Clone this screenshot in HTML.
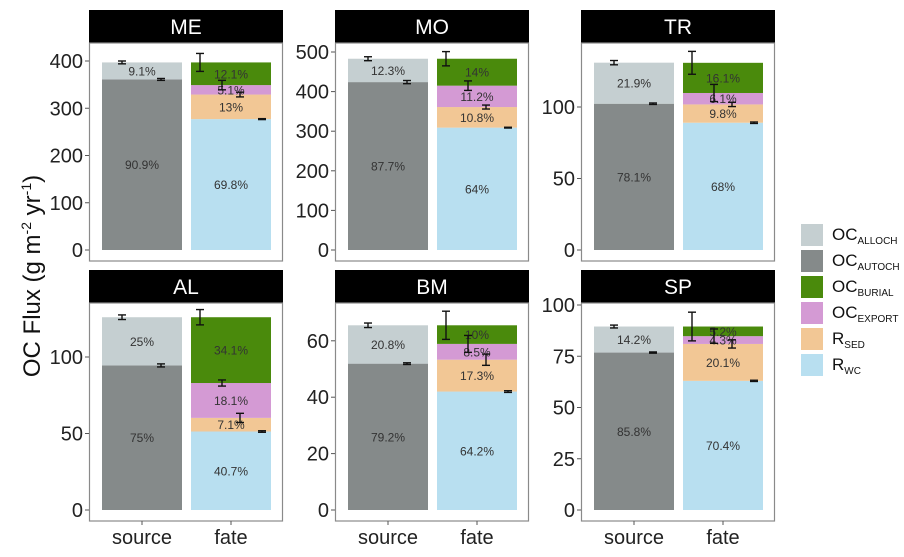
<!DOCTYPE html>
<html><head><meta charset="utf-8"><style>
body{margin:0;background:#fff;width:904px;height:552px;overflow:hidden;font-family:"Liberation Sans",sans-serif}
</style></head><body>
<svg id="chart" width="904" height="552" xmlns="http://www.w3.org/2000/svg" font-family="Liberation Sans, sans-serif">
<text transform="translate(40,276) rotate(-90)" text-anchor="middle" font-size="24" fill="#111">OC Flux (g m<tspan font-size="14" dy="-9">-2</tspan><tspan dy="9"> yr</tspan><tspan font-size="14" dy="-9">-1</tspan><tspan dy="9">)</tspan></text>
<g id="legend"></g>
</svg>
<script>
const sites = ["ME","MO","TR","AL","BM","SP"];
const segNames = ["OC_ALLOCH","OC_AUTOCH","OC_BURIAL","OC_EXPORT","R_SED","R_WC"];
const colors = ["#c5cfd1","#858a8a","#4a8a0c","#d49ad4","#f2c795","#b8dff0"];
// source: [alloch, autoch]
const sourceVals = [[36,361],[59,424],[28.7,102.3],[31.5,94.5],[13.6,51.9],[12.7,76.8]];
// fate: [rwc, rsed, export, burial]
const fateVals = [[277,52,20,48],[309,52,54,68],[89,12.8,8,21.1],[51.3,8.9,22.8,43],[42,11.3,5.6,6.6],[63,18,3.8,4.7]];
const sourcePct = [["9.1%","90.9%"],["12.3%","87.7%"],["21.9%","78.1%"],["25%","75%"],["20.8%","79.2%"],["14.2%","85.8%"]];
const fatePct = [["69.8%","13%","5.1%","12.1%"],["64%","10.8%","11.2%","14%"],["68%","9.8%","6.1%","16.1%"],["40.7%","7.1%","18.1%","34.1%"],["64.2%","17.3%","8.5%","10%"],["70.4%","20.1%","4.3%","5.2%"]];
// errors: source [total, autoch], fate [burial, export, rsed, rwc]
const sourceErr = [[3,2],[5,4],[1.5,0.5],[1.5,1],[0.8,0.3],[0.7,0.3]];
const fateErr = [[19,10,5,1],[18,12,5,1],[8,6,1.5,0.5],[5,2,3,0.5],[5,3,2,0.3],[7,3.5,2,0.3]];
const ticks = [[0,100,200,300,400],[0,100,200,300,400,500],[0,50,100],[0,50,100],[0,20,40,60],[0,25,50,75,100]];
const scales = [0.4725,0.396,1.43,1.53,2.82,2.05];
const NS="http://www.w3.org/2000/svg";
const svg=document.getElementById('chart');
function mk(tag,attrs,parent){const e=document.createElementNS(NS,tag);for(const k in attrs)e.setAttribute(k,attrs[k]);(parent||svg).appendChild(e);return e;}
const colX=[89,335,581], rowY=[10,270];
sites.forEach((s,i)=>{
  const px=colX[i%3], py=rowY[Math.floor(i/3)];
  const y0=py+240, k=scales[i];
  const Y=v=>y0-v*k;
  const g=mk('g',{});
  
  
  const h=mk('rect',{x:px,y:py,width:194,height:33,fill:'#000'},g);
  
  
  const ht=mk('text',{x:px+97,y:py+24,'text-anchor':'middle','font-size':21,fill:'#fff'},g);ht.textContent=s;
  
  
  mk('rect',{x:px+0.5,y:py+33,width:193,height:218,fill:'#fff',stroke:'#8a8a8a','stroke-width':1.2},g);
  ticks[i].forEach(t=>{
    const tl=mk('text',{x:px-6,y:Y(t)+7,'text-anchor':'end','font-size':20,fill:'#222'},g);tl.textContent=t;
    
    
    mk('line',{x1:px-4,x2:px,y1:Y(t),y2:Y(t),stroke:'#555'},g);
  });
  const sx=px+13, fx=px+102, bw=80;
  let cum=0;
  const sv=[sourceVals[i][1],sourceVals[i][0]], sp=[sourcePct[i][1],sourcePct[i][0]], sc=[colors[1],colors[0]];
  sv.forEach((v,j)=>{
    const r=mk('rect',{x:sx,y:Y(cum+v),width:bw,height:v*k,fill:sc[j]},g);
    
    
    const t=mk('text',{x:sx+bw/2,y:Y(cum+v/2)+4.5,'text-anchor':'middle','font-size':12,fill:'#333'},g);t.textContent=sp[j];
    cum+=v;
  });
  cum=0;
  const fc=[colors[5],colors[4],colors[3],colors[2]];
  const tops=[];
  fateVals[i].forEach((v,j)=>{
    const r=mk('rect',{x:fx,y:Y(cum+v),width:bw,height:v*k,fill:fc[j]},g);
    
    
    const t=mk('text',{x:fx+bw/2,y:Y(cum+v/2)+4.5,'text-anchor':'middle','font-size':12,fill:'#333'},g);t.textContent=fatePct[i][j];
    cum+=v;tops.push(cum);
  });
  function err(x,c,e){
    mk('line',{x1:x,x2:x,y1:Y(c-e),y2:Y(c+e),stroke:'#111','stroke-width':1.4},g);
    mk('line',{x1:x-4,x2:x+4,y1:Y(c-e),y2:Y(c-e),stroke:'#111','stroke-width':1.4},g);
    mk('line',{x1:x-4,x2:x+4,y1:Y(c+e),y2:Y(c+e),stroke:'#111','stroke-width':1.4},g);
  }
  const stot=sourceVals[i][0]+sourceVals[i][1];
  err(sx+20,stot,sourceErr[i][0]); err(sx+59,sourceVals[i][1],sourceErr[i][1]);
  err(fx+9,tops[3],fateErr[i][0]); err(fx+31,tops[2],fateErr[i][1]); err(fx+49,tops[1],fateErr[i][2]); err(fx+71,tops[0],fateErr[i][3]);
  if(i>=3){
    [['source',sx+bw/2],['fate',fx+bw/2]].forEach(([l,x])=>{
      mk('line',{x1:x,x2:x,y1:py+251,y2:py+255,stroke:'#555'},g);
      const t=mk('text',{x:x,y:py+274,'text-anchor':'middle','font-size':20,fill:'#222'},g);t.textContent=l;
      
      
    });
  }
});
const lg=document.getElementById('legend');
const legMain=["OC","OC","OC","OC","R","R"], legSub=["ALLOCH","AUTOCH","BURIAL","EXPORT","SED","WC"];
legSub.forEach((sub,j)=>{
  const y=224+j*26;
  const r=mk('rect',{x:801,y:y,width:22,height:22,fill:colors[j]},lg);
  
  
  const t=mk('text',{x:832,y:y+16,'font-size':17,fill:'#111'},lg);
  
  
  t.innerHTML=legMain[j]+'<tspan font-size="10" dy="4">'+sub+'</tspan>';
});
</script>
</body></html>
